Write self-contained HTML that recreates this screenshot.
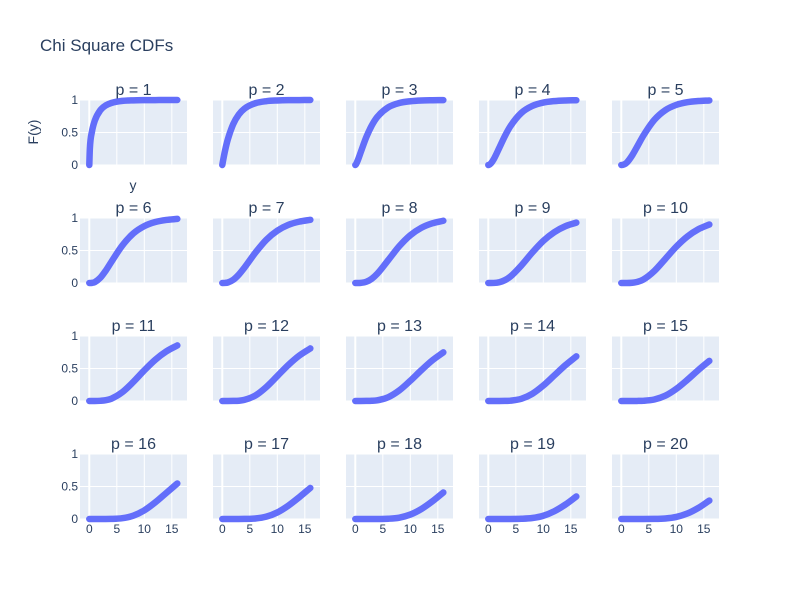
<!DOCTYPE html>
<html><head><meta charset="utf-8"><style>
body{margin:0;background:#fff}
svg{display:block;font-family:"Liberation Sans",sans-serif}
</style></head><body>
<svg id="chart" width="800" height="600">
<rect width="800" height="600" fill="#fff"/>
<text x="40" y="51" font-size="17" fill="#2a3f5f">Chi Square CDFs</text>
<text transform="translate(38,132) rotate(-90)" text-anchor="middle" font-size="14" fill="#2a3f5f">F(y)</text>
<text x="133" y="190" text-anchor="middle" font-size="14" fill="#2a3f5f">y</text>
<g id="panels"></g>
</svg>
<script>
const xs = [0,0.1,0.5,1,2,3,4,6,8,10,12,14,16];
const series = [
[0,.248,.520,.683,.843,.917,.954,.986,.995,.998,.999,1,1],
[0,.049,.221,.393,.632,.777,.865,.950,.982,.993,.998,.999,1],
[0,.008,.081,.199,.428,.608,.739,.888,.954,.981,.993,.997,.999],
[0,.001,.027,.090,.264,.442,.594,.801,.908,.960,.983,.993,.997],
[0,0,.008,.037,.151,.300,.451,.694,.844,.925,.966,.984,.993],
[0,0,.002,.014,.080,.191,.323,.577,.762,.875,.938,.970,.986],
[0,0,.001,.008,.050,.129,.233,.465,.665,.805,.894,.944,.972],
[0,0,0,.002,.019,.066,.143,.353,.567,.735,.849,.918,.958],
[0,0,0,.001,.012,.043,.098,.269,.469,.648,.782,.873,.929],
[0,0,0,0,.004,.019,.053,.185,.371,.560,.715,.827,.900],
[0,0,0,0,.003,.012,.035,.135,.293,.472,.635,.763,.855],
[0,0,0,0,.001,.004,.017,.084,.215,.384,.554,.699,.809],
[0,0,0,0,.001,.003,.011,.059,.163,.311,.474,.625,.748],
[0,0,0,0,0,.001,.005,.034,.111,.238,.394,.550,.687],
[0,0,0,0,0,.001,.003,.023,.081,.186,.325,.476,.617],
[0,0,0,0,0,0,.001,.012,.051,.133,.256,.401,.547],
[0,0,0,0,0,0,.001,.008,.036,.101,.205,.336,.478],
[0,0,0,0,0,0,0,.004,.021,.068,.153,.271,.408],
[0,0,0,0,0,0,0,.003,.015,.050,.119,.221,.346],
[0,0,0,0,0,0,0,.001,.008,.032,.084,.170,.283]
];
const xTicks = [0,5,10,15];
const yTicks = [0,0.5,1];
const yTickLabels = ["0","0.5","1"];

const NS="http://www.w3.org/2000/svg";
const root=document.getElementById('panels');
const W=107,H=65,X0=80,Y0=100,DX=133,DY=118,XMIN=-1.69,XMAX=17.76;
function mk(t,a,p){const e=document.createElementNS(NS,t);for(const k in a)e.setAttribute(k,a[k]);(p||root).appendChild(e);return e;}
function mono(pts){
  const n=pts.length,d=[],m=[];
  for(let i=0;i<n-1;i++)d.push((pts[i+1][1]-pts[i][1])/(pts[i+1][0]-pts[i][0]));
  m[0]=d[0];m[n-1]=d[n-2];
  for(let i=1;i<n-1;i++)m[i]=(d[i-1]*d[i]<=0)?0:(d[i-1]+d[i])/2;
  for(let i=0;i<n-1;i++){if(d[i]===0){m[i]=0;m[i+1]=0;continue;}const a=m[i]/d[i],b=m[i+1]/d[i],s=a*a+b*b;if(s>9){const t=3/Math.sqrt(s);m[i]=t*a*d[i];m[i+1]=t*b*d[i];}}
  let s="M"+pts[0][0]+","+pts[0][1];
  for(let i=0;i<n-1;i++){const h=(pts[i+1][0]-pts[i][0])/3;
    s+=" C"+(pts[i][0]+h)+","+(pts[i][1]+m[i]*h)+" "+(pts[i+1][0]-h)+","+(pts[i+1][1]-m[i+1]*h)+" "+pts[i+1][0]+","+pts[i+1][1];}
  return s;
}
series.forEach((vals,k)=>{
  const r=Math.floor(k/5),c=k%5,px=X0+c*DX,py=Y0+r*DY;
  const sx=v=>px+(v-XMIN)/(XMAX-XMIN)*W, sy=v=>py+H-v*H;
  const g=mk('g',{});
  
  
  const bg=mk('rect',{x:px,y:py,width:W,height:H,fill:'#e5ecf6'},g);
  
  
  xTicks.forEach(t=>{const l=mk('line',{x1:sx(t),x2:sx(t),y1:py,y2:py+H,stroke:'#fff','stroke-width':t===0?2:1},g);
    
    
    if(r===3){const tx=mk('text',{x:sx(t),y:py+H+14,'text-anchor':'middle','font-size':12,fill:'#2a3f5f'},g);tx.textContent=t;
      
      }});
  yTicks.forEach((t,i)=>{const l=mk('line',{x1:px,x2:px+W,y1:sy(t),y2:sy(t),stroke:'#fff','stroke-width':1},g);
    
    
    if(c===0){const tx=mk('text',{x:px-2,y:sy(t)+4,'text-anchor':'end','font-size':12,fill:'#2a3f5f'},g);tx.textContent=yTickLabels[i];
      
      }});
  const pts=xs.map((x,i)=>[sx(x),sy(vals[i])]);
  const path=mk('path',{d:mono(pts),fill:'none',stroke:'#636efa','stroke-width':6.5,'stroke-linecap':'round','stroke-linejoin':'round'},g);
  
  
  const tt=mk('text',{x:px+W/2,y:py-5,'text-anchor':'middle','font-size':16,fill:'#2a3f5f'},g);
  tt.textContent='p = '+(k+1);
  
  
});
</script>
</body></html>
